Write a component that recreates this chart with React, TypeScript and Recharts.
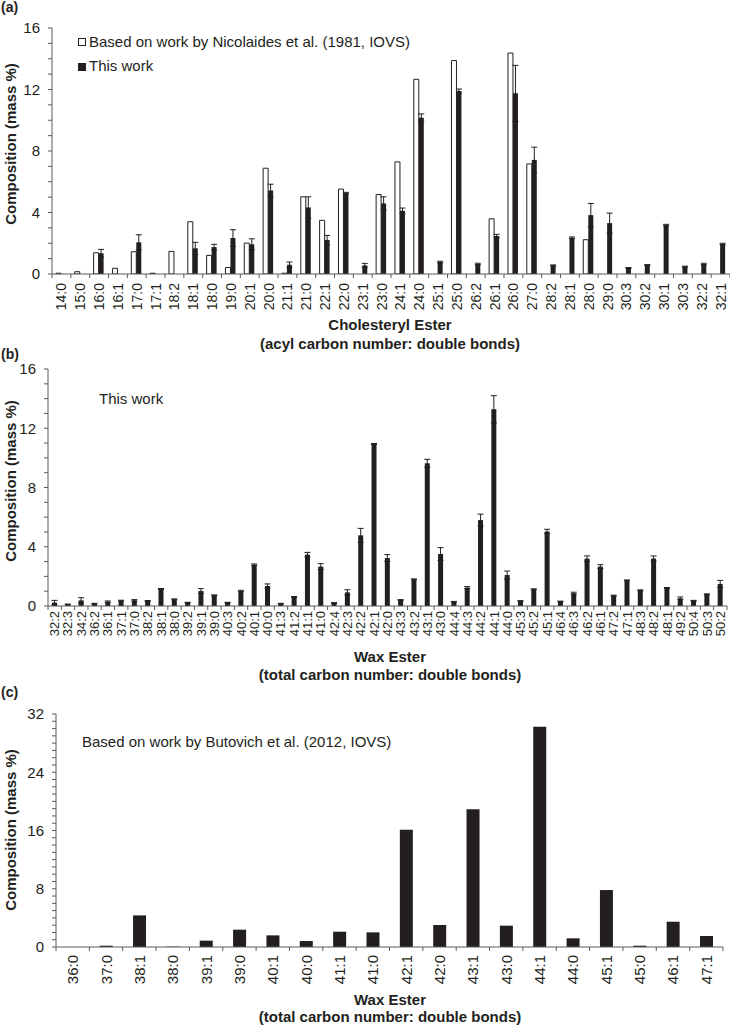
import { BarChart, Bar, XAxis, YAxis, ErrorBar } from 'recharts';

const INK = '#231f20';
const AXIS = '#5a5a5a';
const FONT = '"Liberation Sans", Arial, Helvetica, sans-serif';

// (a) cholesteryl esters
const ceLabels = ['14:0', '15:0', '16:0', '16:1', '17:0', '17:1', '18:2', '18:1', '18:0', '19:0', '20:1', '20:0', '21:1', '21:0', '22:1', '22:0', '23:1', '23:0', '24:1', '24:0', '25:1', '25:0', '26:2', '26:1', '26:0', '27:0', '28:2', '28:1', '28:0', '29:0', '30:3', '30:2', '30:1', '30:3', '32:2', '32:1'];
const ceNicolaides = [0.05, 0.15, 1.38, 0.37, 1.45, 0.05, 1.47, 3.4, 1.21, 0.42, 2.01, 6.88, 0.05, 5.02, 3.49, 5.52, null, 5.17, 7.29, 12.66, null, 13.88, null, 3.59, 14.37, 7.16, null, null, 2.23, null, null, null, null, null, null, null];
const ceThisWork = [null, null, 1.35, null, 2.06, null, null, 1.67, 1.75, 2.34, 1.93, 5.43, 0.6, 4.33, 2.21, 5.26, 0.56, 4.59, 4.11, 10.17, 0.78, 11.9, 0.65, 2.47, 11.75, 7.42, 0.56, 2.36, 3.83, 3.31, 0.39, 0.58, 3.18, 0.48, 0.65, 1.95];
const ceThisWorkErr = [null, null, 0.25, null, 0.49, null, null, 0.39, 0.18, 0.54, 0.36, 0.41, 0.18, 0.69, 0.3, 0.05, 0.13, 0.43, 0.18, 0.24, 0.05, 0.13, 0.05, 0.11, 1.82, 0.83, 0.03, 0.05, 0.76, 0.65, 0.03, 0.03, 0.05, 0.03, 0.05, 0.05];

// (b) wax esters, this work
const weLabels = ['32:2', '32:3', '34:2', '36:2', '36:1', '37:1', '37:0', '38:2', '38:1', '38:0', '39:2', '39:1', '39:0', '40:3', '40:2', '40:1', '40:0', '41:3', '41:2', '41:1', '41:0', '42:4', '42:3', '42:2', '42:1', '42:0', '43:3', '43:2', '43:1', '43:0', '44:4', '44:3', '44:2', '44:1', '44:0', '45:3', '45:2', '45:1', '46:4', '46:3', '46:2', '46:1', '47:2', '47:1', '48:3', '48:2', '48:1', '49:2', '50:4', '50:3', '50:2'];
const weThisWork = [0.23, 0.11, 0.38, 0.16, 0.29, 0.36, 0.38, 0.34, 1.15, 0.45, 0.23, 1.01, 0.72, 0.23, 1.01, 2.79, 1.35, 0.16, 0.61, 3.47, 2.66, 0.2, 0.92, 4.77, 10.94, 3.24, 0.41, 1.8, 9.63, 3.51, 0.29, 1.24, 5.8, 13.28, 2.09, 0.34, 1.13, 5.03, 0.31, 0.86, 3.2, 2.66, 0.7, 1.73, 1.06, 3.2, 1.22, 0.52, 0.36, 0.79, 1.49];
const weThisWorkErr = [0.15, 0.02, 0.18, 0.02, 0.05, 0.03, 0.05, 0.03, 0.03, 0.03, 0.02, 0.16, 0.03, 0.02, 0.05, 0.05, 0.14, 0.02, 0.03, 0.15, 0.2, 0.03, 0.18, 0.47, 0.03, 0.23, 0.02, 0.03, 0.27, 0.43, 0.02, 0.07, 0.4, 0.92, 0.27, 0.02, 0.03, 0.15, 0.02, 0.07, 0.18, 0.13, 0.03, 0.03, 0.03, 0.18, 0.03, 0.09, 0.02, 0.03, 0.24];

// (c) wax esters, Butovich et al.
const butLabels = ['36:0', '37:0', '38:1', '38:0', '39:1', '39:0', '40:1', '40:0', '41:1', '41:0', '42:1', '42:0', '43:1', '43:0', '44:1', '44:0', '45:1', '45:0', '46:1', '47:1'];
const butValues = [0, 0.18, 4.34, 0.05, 0.87, 2.38, 1.6, 0.82, 2.1, 2.01, 16.09, 3.02, 18.93, 2.93, 30.26, 1.19, 7.82, 0.18, 3.47, 1.51];

const yTicks16 = [0, 1, 2, 3, 4, 5, 6, 7, 8, 9, 10, 11, 12, 13, 14, 15, 16];
const yTicks32 = [0, 1, 2, 3, 4, 5, 6, 7, 8, 9, 10, 11, 12, 13, 14, 15, 16, 17, 18, 19, 20, 21, 22, 23, 24, 25, 26, 27, 28, 29, 30, 31, 32];

const ceData = ceLabels.map((name, i) => ({
  name,
  nicolaides: ceNicolaides[i],
  thisWork: ceThisWork[i],
  err: ceThisWorkErr[i],
}));
const weData = weLabels.map((name, i) => ({ name, thisWork: weThisWork[i], err: weThisWorkErr[i] }));
const butData = butLabels.map((name, i) => ({ name, value: butValues[i] }));

const TICK_SIZE = 4;

// rotated category label plus a tick on the left edge of each band (and the far right edge)
function makeCategoryTick(band: number, count: number, fontSize: number, gap: number) {
  return (props: any) => {
    const { x, y, payload, index } = props;
    const axisY = y - TICK_SIZE;
    const ty = y + gap;
    return (
      <g>
        <line x1={x - band / 2} x2={x - band / 2} y1={axisY} y2={axisY + TICK_SIZE} stroke={AXIS} />
        {index === count - 1 && (
          <line x1={x + band / 2} x2={x + band / 2} y1={axisY} y2={axisY + TICK_SIZE} stroke={AXIS} />
        )}
        <text
          x={x}
          y={ty}
          transform={`rotate(-90, ${x}, ${ty})`}
          textAnchor="end"
          dominantBaseline="central"
          fontSize={fontSize}
          fontFamily={FONT}
          fill={INK}
        >
          {payload.value}
        </text>
      </g>
    );
  };
}

const yAxisCommon = {
  interval: 0 as const,
  tickSize: TICK_SIZE,
  tickMargin: 8,
  axisLine: { stroke: AXIS },
  tickLine: { stroke: AXIS },
  tick: { fontSize: 15, fill: INK, fontFamily: FONT },
  allowDataOverflow: true,
};

const textStyle: React.CSSProperties = {
  position: 'absolute',
  fontFamily: FONT,
  color: INK,
  whiteSpace: 'nowrap',
};

function YTitle({ cy }: { cy: number }) {
  return (
    <div
      style={{
        ...textStyle,
        left: 11 - 110,
        top: cy - 9,
        width: 220,
        height: 18,
        lineHeight: '18px',
        textAlign: 'center',
        fontSize: 15,
        fontWeight: 'bold',
        transform: 'rotate(-90deg)',
      }}
    >
      Composition (mass %)
    </div>
  );
}

function XTitleLine({ cy, text }: { cy: number; text: string }) {
  return (
    <div
      style={{
        ...textStyle,
        left: 190,
        width: 400,
        top: cy - 8,
        height: 16,
        lineHeight: '16px',
        textAlign: 'center',
        fontSize: 15,
        fontWeight: 'bold',
      }}
    >
      {text}
    </div>
  );
}

function PanelTag({ label, cy }: { label: string; cy: number }) {
  return (
    <div style={{ ...textStyle, left: 1, top: cy - 9, lineHeight: '18px', fontSize: 14, fontWeight: 'bold' }}>
      {label}
    </div>
  );
}

function Note({ x, cy, children }: { x: number; cy: number; children: React.ReactNode }) {
  return (
    <div style={{ ...textStyle, left: x, top: cy - 9, lineHeight: '18px', fontSize: 15 }}>{children}</div>
  );
}

function Swatch({ x, cy, filled }: { x: number; cy: number; filled: boolean }) {
  return (
    <div
      style={{
        position: 'absolute',
        left: x,
        top: cy - 4,
        width: 8,
        height: 8,
        boxSizing: 'border-box',
        border: `1px solid ${INK}`,
        background: filled ? INK : '#fff',
      }}
    />
  );
}

export default function App() {
  const aBand = (730 - 52) / ceLabels.length;
  const bBand = (730 - 48 - 3) / weLabels.length;
  const cBand = (730 - 56 - 7) / butLabels.length;

  return (
    <div style={{ position: 'absolute', left: 0, top: 0, width: 730, height: 1026, background: '#fff', overflow: 'hidden' }}>
      {/* (a) */}
      <div style={{ position: 'absolute', left: 0, top: 0 }}>
        <BarChart width={730} height={320} data={ceData} margin={{ top: 28, right: 0, bottom: 0, left: 0 }} barCategoryGap="21%" barGap={0}>
          <XAxis
            dataKey="name"
            interval={0}
            tickLine={false}
            tickSize={TICK_SIZE}
            tickMargin={0}
            height={46}
            axisLine={{ stroke: AXIS }}
            tick={makeCategoryTick(aBand, ceLabels.length, 14, 5)}
          />
          <YAxis domain={[0, 16]} ticks={yTicks16} width={52} tickFormatter={(v: number) => (v % 4 === 0 ? String(v) : '')} {...yAxisCommon} />
          <Bar dataKey="nicolaides" fill="#ffffff" stroke={INK} strokeWidth={1} isAnimationActive={false} />
          <Bar dataKey="thisWork" fill={INK} isAnimationActive={false}>
            <ErrorBar dataKey="err" direction="y" width={3} stroke={INK} strokeWidth={1} />
          </Bar>
        </BarChart>
      </div>
      <PanelTag label="(a)" cy={7} />
      <YTitle cy={144} />
      <Swatch x={78} cy={42} filled={false} />
      <Note x={89} cy={42}>Based on work by Nicolaides et al. (1981, IOVS)</Note>
      <Swatch x={78} cy={67} filled />
      <Note x={89} cy={66}>This work</Note>
      <XTitleLine cy={325} text="Cholesteryl Ester" />
      <XTitleLine cy={344} text="(acyl carbon number: double bonds)" />

      {/* (b) */}
      <div style={{ position: 'absolute', left: 0, top: 330 }}>
        <BarChart width={730} height={316} data={weData} margin={{ top: 39, right: 3, bottom: 0, left: 0 }} barCategoryGap="30%">
          <XAxis
            dataKey="name"
            interval={0}
            tickLine={false}
            tickSize={TICK_SIZE}
            tickMargin={0}
            height={40}
            axisLine={{ stroke: AXIS }}
            tick={makeCategoryTick(bBand, weLabels.length, 13, 1)}
          />
          <YAxis domain={[0, 16]} ticks={yTicks16} width={48} tickFormatter={(v: number) => (v % 4 === 0 ? String(v) : '')} {...yAxisCommon} />
          <Bar dataKey="thisWork" fill={INK} isAnimationActive={false}>
            <ErrorBar dataKey="err" direction="y" width={3} stroke={INK} strokeWidth={1} />
          </Bar>
        </BarChart>
      </div>
      <PanelTag label="(b)" cy={354} />
      <YTitle cy={481} />
      <Note x={99} cy={399}>This work</Note>
      <XTitleLine cy={657} text="Wax Ester" />
      <XTitleLine cy={675} text="(total carbon number: double bonds)" />

      {/* (c) */}
      <div style={{ position: 'absolute', left: 0, top: 690 }}>
        <BarChart width={730} height={302} data={butData} margin={{ top: 24, right: 7, bottom: 0, left: 0 }} barCategoryGap="31%">
          <XAxis
            dataKey="name"
            interval={0}
            tickLine={false}
            tickSize={TICK_SIZE}
            tickMargin={0}
            height={45}
            axisLine={{ stroke: AXIS }}
            tick={makeCategoryTick(cBand, butLabels.length, 15, 4)}
          />
          <YAxis domain={[0, 32]} ticks={yTicks32} width={56} tickFormatter={(v: number) => (v % 8 === 0 ? String(v) : '')} {...yAxisCommon} />
          <Bar dataKey="value" fill={INK} isAnimationActive={false} />
        </BarChart>
      </div>
      <PanelTag label="(c)" cy={692} />
      <YTitle cy={830} />
      <Note x={82} cy={742}>Based on work by Butovich et al. (2012, IOVS)</Note>
      <XTitleLine cy={1000} text="Wax Ester" />
      <XTitleLine cy={1017} text="(total carbon number: double bonds)" />
    </div>
  );
}
